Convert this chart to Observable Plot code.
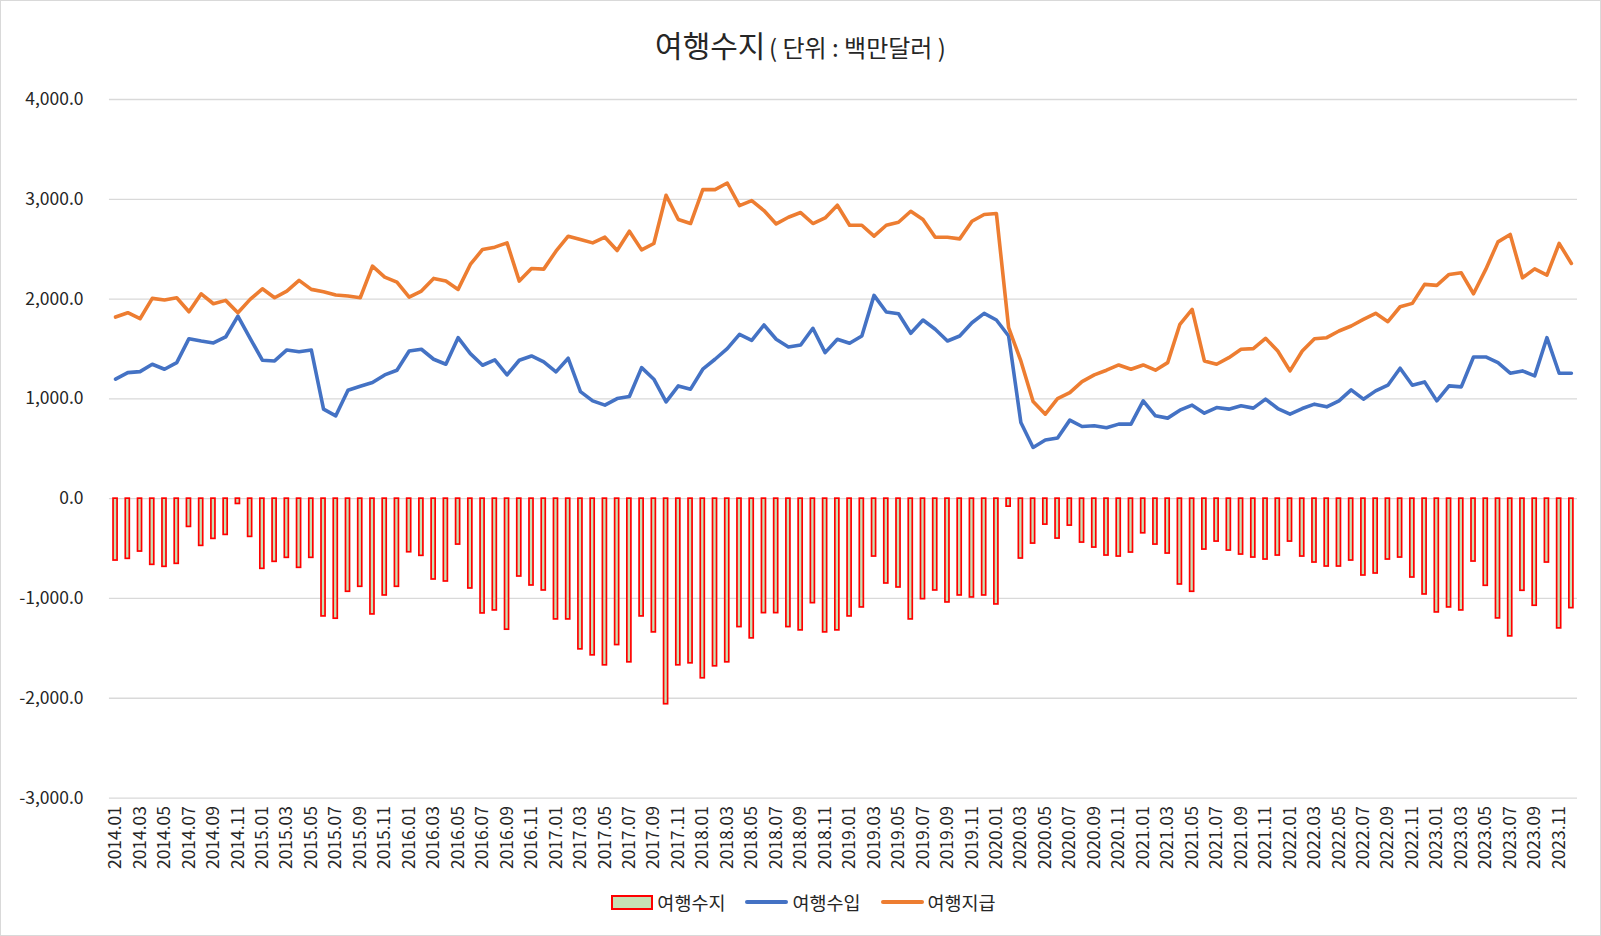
<!DOCTYPE html>
<html>
<head>
<meta charset="utf-8">
<script src="https://cdn.jsdelivr.net/npm/d3@7"></script>
<script src="https://cdn.jsdelivr.net/npm/@observablehq/plot@0.6"></script>
<style>
  html, body { margin: 0; padding: 0; background: #fff; }
  #wrap { position: relative; width: 1599px; height: 934px; border: 1px solid #d9d9d9; background: #fff; overflow: hidden;
          font-family: "Noto Sans CJK KR", "Noto Sans", sans-serif; }
  #title { position: absolute; left: 0; top: 21px; width: 1599px; text-align: center; color: #262626; white-space: nowrap; line-height: 44px; }
  #title .main { font-size: 30px; }
  #title .sub { font-size: 24px; }
  #chart { position: absolute; left: -1px; top: 69px; }
  #legend { position: absolute; left: 3px; top: 888px; width: 1599px; display: flex; justify-content: center; align-items: center;
            font-size: 18.5px; color: #262626; gap: 0; }
  .item { display: flex; align-items: center; margin: 0 10px; }
  .swatch-bar { width: 38px; height: 11px; background: #c6e0b4; border: 2px solid #ff0000; margin-right: 4px; }
  .swatch-line { width: 43px; height: 4px; border-radius: 2px; margin-right: 4px; }
</style>
</head>
<body>
<div id="wrap">
  <div id="title"><span class="main">여행수지</span> <span class="sub">( 단위 : 백만달러 )</span></div>
  <div id="chart"></div>
  <div id="legend">
    <div class="item"><div class="swatch-bar"></div><span>여행수지</span></div>
    <div class="item"><div class="swatch-line" style="background:#4472c4"></div><span>여행수입</span></div>
    <div class="item"><div class="swatch-line" style="background:#ed7d31"></div><span>여행지급</span></div>
  </div>
</div>
<script>
// categories
const years = ["2014","2015","2016","2017","2018","2019","2020","2021","2022","2023"];
const monthNums = ["01","02","03","04","05","06","07","08","09","10","11","12"];
const months = years.flatMap(y => monthNums.map(m => `${y}.${m}`));

// 여행수입 (travel income), million USD
const income = [
  1197, 1263, 1273, 1347, 1297, 1363, 1603, 1580, 1560, 1620, 1830, 1607,
  1387, 1380, 1490, 1473, 1490,  897,  830, 1087, 1127, 1163, 1240, 1287,
  1480, 1497, 1397, 1347, 1613, 1453, 1337, 1390, 1240, 1387, 1430, 1370,
  1270, 1407, 1073,  980,  937, 1003, 1023, 1313, 1197,  970, 1130, 1097,
  1297, 1397, 1503, 1647, 1587, 1740, 1597, 1520, 1540, 1707, 1463, 1597,
  1557, 1630, 2037, 1870, 1853, 1657, 1790, 1697, 1580, 1630, 1763, 1857,
  1790, 1630,  763,  513,  587,  607,  787,  723,  730,  710,  747,  747,
   980,  830,  807,  887,  937,  857,  913,  897,  930,  907,  997,  903,
   847,  903,  947,  920,  980, 1090,  997, 1080, 1137, 1307, 1137, 1170,
   980, 1130, 1120, 1420, 1420, 1363, 1257, 1280, 1230, 1613, 1257, 1257
];

// 여행지급 (travel expenditure), million USD
const expenditure = [
  1820, 1863, 1803, 2007, 1990, 2013, 1873, 2053, 1953, 1987, 1863, 1997,
  2103, 2013, 2080, 2187, 2097, 2073, 2040, 2030, 2013, 2330, 2220, 2170,
  2020, 2080, 2207, 2180, 2097, 2347, 2497, 2520, 2563, 2180, 2307, 2300,
  2480, 2630, 2597, 2563, 2620, 2487, 2680, 2493, 2557, 3040, 2797, 2757,
  3097, 3097, 3163, 2937, 2987, 2887, 2753, 2820, 2867, 2757, 2813, 2940,
  2740, 2740, 2630, 2740, 2770, 2880, 2797, 2620, 2620, 2603, 2780, 2847,
  2857, 1713, 1380,  973,  847, 1003, 1063, 1173, 1240, 1287, 1340, 1297,
  1340, 1287, 1363, 1747, 1897, 1380, 1347, 1413, 1497, 1503, 1607, 1480,
  1280, 1480, 1603, 1613, 1680, 1730, 1797, 1857, 1773, 1923, 1957, 2147,
  2137, 2247, 2263, 2053, 2297, 2573, 2647, 2213, 2303, 2240, 2557, 2357
];

// 여행수지 (travel balance), million USD
const balance = [
   -620,  -603,  -530,  -663,  -683,  -653,  -283,  -473,  -403,  -363,   -53,  -383,
   -703,  -633,  -593,  -693,  -593, -1180, -1203,  -933,  -883, -1160,  -970,  -883,
   -537,  -573,  -810,  -830,  -460,  -900, -1150, -1120, -1313,  -780,  -870,  -920,
  -1210, -1210, -1510, -1570, -1670, -1467, -1640, -1180, -1340, -2060, -1670, -1650,
  -1800, -1680, -1640, -1287, -1400, -1147, -1147, -1287, -1320, -1047, -1340, -1320,
  -1180, -1090,  -580,  -850,  -890, -1210, -1007,  -920, -1040,  -970,  -990,  -970,
  -1060,   -80,  -600,  -450,  -260,  -400,  -270,  -440,  -490,  -570,  -580,  -540,
   -347,  -460,  -550,  -860,  -933,  -510,  -430,  -520,  -560,  -590,  -610,  -570,
   -430,  -580,  -640,  -680,  -680,  -620,  -770,  -750,  -610,  -590,  -790,  -960,
  -1140, -1090, -1120,  -630,  -873, -1200, -1380,  -923, -1073,  -640, -1300, -1097
];

const yTicks = [-3000, -2000, -1000, 0, 1000, 2000, 3000, 4000];

const data = months.map((m, i) => ({ month: m, income: income[i], expenditure: expenditure[i], balance: balance[i] }));

const fmtNum = d3.format(",.1f");
const yFormat = v => (v < 0 ? "-" : "") + fmtNum(Math.abs(v));

const chart = Plot.plot({
  width: 1601,
  height: 810,
  marginLeft: 109,
  marginRight: 23,
  marginTop: 29,
  marginBottom: 82,
  style: { fontFamily: "'Noto Sans CJK KR', 'Noto Sans', sans-serif", fontSize: "17.5px", color: "#262626", background: "transparent" },
  x: {
    type: "band",
    domain: months,
    padding: 0,
    round: false,
    tickSize: 0,
    tickPadding: 8,
    tickRotate: -90,
    tickFormat: d => (months.indexOf(d) % 2 === 0 ? d : ""),
    label: null
  },
  y: {
    domain: [-3000, 4000],
    ticks: yTicks,
    tickSize: 0,
    tickPadding: 26,
    tickFormat: yFormat,
    label: null
  },
  marks: [
    Plot.ruleY(yTicks, { stroke: "#d9d9d9", strokeWidth: 1.3 }),
    Plot.barY(data, { x: "month", y: "balance", fill: "#c6e0b4", stroke: "#ff0000", strokeWidth: 1.7, insetLeft: 4.1, insetRight: 4.1 }),
    Plot.line(data, { x: "month", y: "income", stroke: "#4472c4", strokeWidth: 3.6, strokeLinejoin: "round", strokeLinecap: "round" }),
    Plot.line(data, { x: "month", y: "expenditure", stroke: "#ed7d31", strokeWidth: 3.6, strokeLinejoin: "round", strokeLinecap: "round" })
  ]
});

document.getElementById("chart").appendChild(chart);
</script>
</body>
</html>
